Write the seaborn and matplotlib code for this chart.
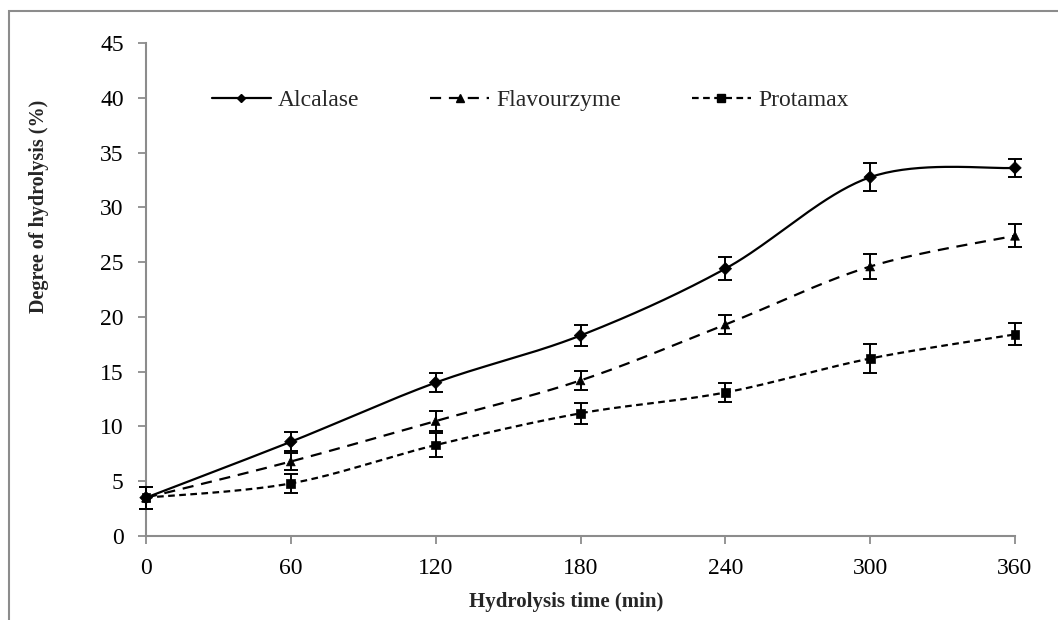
import numpy as np
import pandas as pd
import matplotlib
matplotlib.use("Agg")
import matplotlib.pyplot as plt
import seaborn as sns
from matplotlib.lines import Line2D
from matplotlib.patches import Rectangle

# ---- data ----
time_min = [0, 60, 120, 180, 240, 300, 360]
enzymes = ["Alcalase", "Flavourzyme", "Protamax"]
alcalase = [3.5, 8.6, 14.0, 18.3, 24.4, 32.75, 33.6]
alcalase_err = [1.0, 0.85, 0.85, 1.0, 1.05, 1.3, 0.8]
flavourzyme = [3.5, 6.8, 10.5, 14.2, 19.3, 24.6, 27.4]
flavourzyme_err = [1.0, 0.8, 0.9, 0.9, 0.9, 1.15, 1.05]
protamax = [3.5, 4.8, 8.3, 11.2, 13.1, 16.2, 18.4]
protamax_err = [1.0, 0.9, 1.1, 0.95, 0.85, 1.3, 1.0]
x_ticks = [0, 60, 120, 180, 240, 300, 360]
y_ticks = [0, 5, 10, 15, 20, 25, 30, 35, 40, 45]
x_label = "Hydrolysis time (min)"
y_label = "Degree of hydrolysis (%)"

values = {"Alcalase": alcalase, "Flavourzyme": flavourzyme, "Protamax": protamax}
errors = {"Alcalase": alcalase_err, "Flavourzyme": flavourzyme_err, "Protamax": protamax_err}
markers = {"Alcalase": "D", "Flavourzyme": "^", "Protamax": "s"}
msizes = {"Alcalase": 5, "Flavourzyme": 7, "Protamax": 7}
dashes = {"Alcalase": "", "Flavourzyme": (5, 3.5), "Protamax": (3, 2)}


def smooth_curve(xs, ys, n=40):
    """Excel-style smoothed line (Catmull-Rom Bezier through points)."""
    P = np.column_stack([xs, ys]).astype(float)
    out = []
    m = len(P)
    for i in range(m - 1):
        p0 = P[i - 1] if i > 0 else P[i]
        p1 = P[i]
        p2 = P[i + 1]
        p3 = P[i + 2] if i + 2 < m else P[i + 1]
        c1 = p1 + (p2 - p0) / 6.0
        c2 = p2 - (p3 - p1) / 6.0
        t = np.linspace(0, 1, n, endpoint=(i == m - 2))[:, None]
        seg = ((1 - t) ** 3) * p1 + 3 * ((1 - t) ** 2) * t * c1 + 3 * (1 - t) * t ** 2 * c2 + t ** 3 * p2
        out.append(seg)
    return np.vstack(out)


sns.set_style("white")
plt.rcParams["font.family"] = ["Liberation Serif", "DejaVu Serif"]

fig = plt.figure(figsize=(10.58, 6.2), dpi=100)
ax = fig.add_axes([146 / 1058, 84 / 620, 869 / 1058, 493 / 620])

# smoothed lines
rows = []
for e in enzymes:
    c = smooth_curve(time_min, values[e])
    for xx, yy in c:
        rows.append({"enzyme": e, "t": xx, "dh": yy})
curve_df = pd.DataFrame(rows)
sns.lineplot(data=curve_df, x="t", y="dh", style="enzyme", dashes=dashes,
             color="black", linewidth=1.6, sort=False, estimator=None,
             legend=False, ax=ax)

# error bars and markers
pts = pd.DataFrame([{"enzyme": e, "t": t, "dh": v}
                    for e in enzymes for t, v in zip(time_min, values[e])])
for e in enzymes:
    ax.errorbar(time_min, values[e], yerr=errors[e], fmt="none", ecolor="black",
                elinewidth=1.4, capsize=5, capthick=1.4, zorder=4)
sns.scatterplot(data=pts, x="t", y="dh", style="enzyme", markers=markers,
                color="black", s=40, edgecolor="black", linewidth=0.5,
                legend=False, ax=ax, zorder=5)

ax.set_xlim(0, 360)
ax.set_ylim(0, 45)
ax.set_xticks(x_ticks)
ax.set_yticks(y_ticks)
ax.set_xticklabels([str(v) for v in x_ticks], fontsize=17)
ax.set_yticklabels([str(v) for v in y_ticks], fontsize=17)
ax.set_xlabel(x_label, fontsize=15, fontweight="bold")
ax.set_ylabel(y_label, fontsize=14.5, fontweight="bold")
ax.xaxis.set_label_coords(0.483, -0.114)
ax.yaxis.set_label_coords(-0.112, 0.669)
ax.tick_params(axis="both", direction="out", length=6, width=1.3, color="#8c8c8c",
               pad=10, bottom=True, left=True, labelcolor="black")
for s in ["top", "right"]:
    ax.spines[s].set_visible(False)
for s in ["left", "bottom"]:
    ax.spines[s].set_color("#8c8c8c")
    ax.spines[s].set_linewidth(1.5)
ax.margins(0)
ax.patch.set_alpha(0)
for coll in ax.collections:
    coll.set_clip_on(False)
for ln in ax.lines:
    ln.set_clip_on(False)

# legend
handles = []
for e in enzymes:
    h = Line2D([0], [0], color="black", lw=1.6, linestyle="-",
               marker=markers[e], markersize=msizes[e] - 1)
    if dashes[e]:
        h.set_dashes(dashes[e])
    handles.append(h)
ax.legend(handles, enzymes, loc="center", bbox_to_anchor=(0.442, 0.884), ncol=3,
          frameon=False, fontsize=17, handlelength=2.5, handletextpad=0.3,
          columnspacing=3.0)

# outer frame of chart area
fig.patches.append(Rectangle((9 / 1058, -0.1), 1.2, 1.1 - 11 / 620,
                             transform=fig.transFigure, fill=False,
                             edgecolor="#8c8c8c", linewidth=1.5))

fig.savefig("out.png", dpi=100)
